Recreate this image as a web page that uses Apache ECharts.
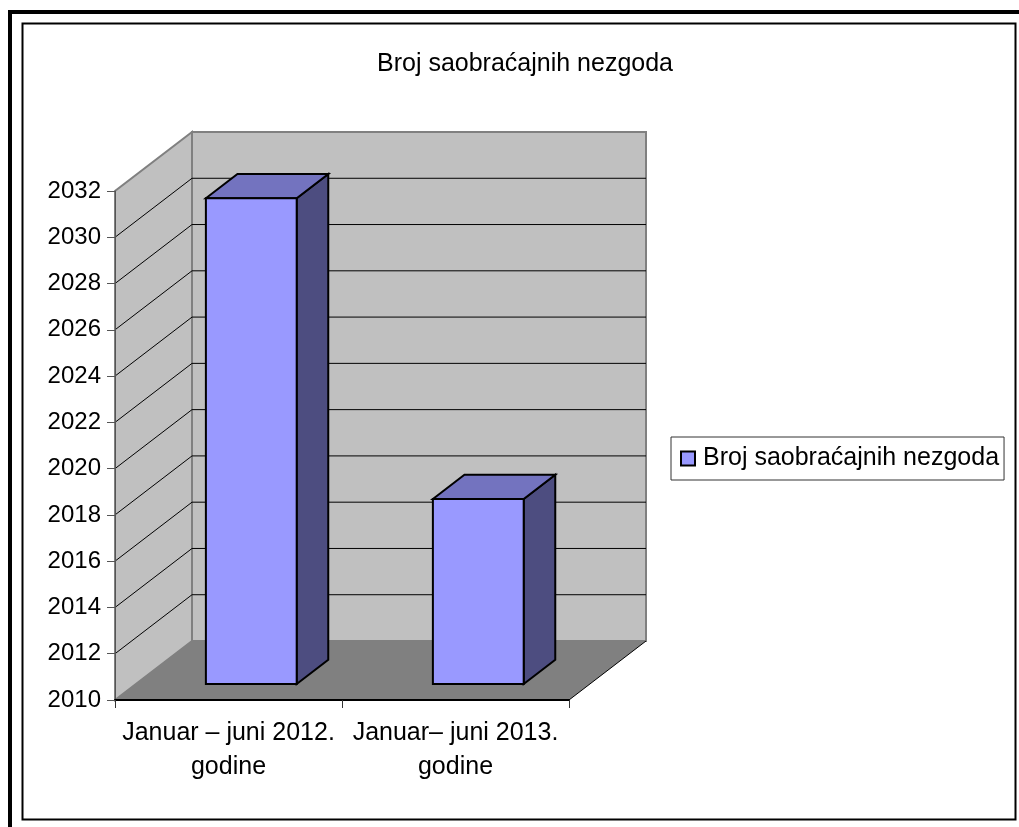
<!DOCTYPE html>
<html>
<head>
<meta charset="utf-8">
<style>
  html, body { margin: 0; padding: 0; background: #fff; }
  #chart { width: 1019px; height: 827px; }
</style>
<script src="https://cdn.jsdelivr.net/npm/echarts@6/dist/echarts.min.js"></script>
</head>
<body>
<div id="chart"></div>
<script>
const chartTitle = 'Broj saobraćajnih nezgoda'
const categories = ['Januar – juni 2012.\ngodine', 'Januar– juni 2013.\ngodine']
const accidents = [2031, 2018]
const yTicks = [2010, 2012, 2014, 2016, 2018, 2020, 2022, 2024, 2026, 2028, 2030, 2032]

const FONT = '"Liberation Sans", Arial, sans-serif'
// oblique projection of the fake 3D box
const DEPTH_X = 77
const DEPTH_Y = -59
const BAR_FRONT = 0.27
const BAR_BACK = 0.68
const BAR_WIDTH = 0.4
const BAR_SHIFT = 2

const poly = (points, fill, stroke, lineWidth) => ({
  type: 'polygon',
  shape: { points },
  style: { fill, stroke: stroke || null, lineWidth: lineWidth || 0 }
})

const renderWalls = (params) => {
  const c = params.coordSys
  const x0 = c.x
  const x1 = c.x + c.width
  const y0 = c.y
  const y1 = c.y + c.height
  return {
    type: 'group',
    children: [
      poly([[x0, y1], [x0, y0], [x0 + DEPTH_X, y0 + DEPTH_Y], [x0 + DEPTH_X, y1 + DEPTH_Y]], '#C0C0C0', '#808080', 2),
      poly([[x0 + DEPTH_X, y0 + DEPTH_Y], [x1 + DEPTH_X, y0 + DEPTH_Y], [x1 + DEPTH_X, y1 + DEPTH_Y], [x0 + DEPTH_X, y1 + DEPTH_Y]], '#C0C0C0', '#808080', 2),
      poly([[x0, y1], [x0 + DEPTH_X, y1 + DEPTH_Y], [x1 + DEPTH_X, y1 + DEPTH_Y], [x1, y1]], '#808080'),
      {
        type: 'line',
        shape: { x1: x1, y1: y1, x2: x1 + DEPTH_X, y2: y1 + DEPTH_Y },
        style: { stroke: '#000', lineWidth: 1 }
      }
    ]
  }
}

const renderGridLine = (params, api) => {
  const c = params.coordSys
  const y = api.coord([0, api.value(0)])[1]
  return {
    type: 'polyline',
    shape: {
      points: [
        [c.x, y],
        [c.x + DEPTH_X, y + DEPTH_Y],
        [c.x + c.width + DEPTH_X, y + DEPTH_Y]
      ]
    },
    style: { stroke: '#000', lineWidth: 1, fill: null }
  }
}

const renderBar = (params, api) => {
  const top = api.coord([api.value(0), api.value(1)])
  const base = api.coord([api.value(0), yTicks[0]])
  const w = api.size([1, 0])[0] * BAR_WIDTH
  const fx = top[0] - w / 2 + BAR_SHIFT + DEPTH_X * BAR_FRONT
  const dx = DEPTH_X * (BAR_BACK - BAR_FRONT)
  const dy = DEPTH_Y * (BAR_BACK - BAR_FRONT)
  const ty = top[1] + DEPTH_Y * BAR_FRONT
  const by = base[1] + DEPTH_Y * BAR_FRONT
  return {
    type: 'group',
    children: [
      poly([[fx + w, ty], [fx + w + dx, ty + dy], [fx + w + dx, by + dy], [fx + w, by]], '#4D4D80', '#000', 2),
      poly([[fx, ty], [fx + dx, ty + dy], [fx + w + dx, ty + dy], [fx + w, ty]], '#7373BF', '#000', 2),
      poly([[fx, ty], [fx + w, ty], [fx + w, by], [fx, by]], '#9999FF', '#000', 2)
    ]
  }
}

const option = {
  backgroundColor: '#fff',
  animation: false,
  textStyle: { fontFamily: FONT, color: '#000' },
  title: {
    text: chartTitle,
    left: 520,
    top: 47,
    textAlign: 'center',
    textStyle: { fontFamily: FONT, fontWeight: 'normal', fontSize: 25, color: '#000' }
  },
  legend: {
    left: 671,
    top: 437,
    padding: [9, 5, 9, 9],
    icon: 'rect',
    itemWidth: 14,
    itemHeight: 14,
    itemGap: 0,
    borderColor: '#333',
    borderWidth: 1,
    data: [chartTitle],
    textStyle: { fontFamily: FONT, fontSize: 25, color: '#000', padding: [0, 0, 0, 3] }
  },
  grid: { left: 115, top: 191, width: 454, height: 509 },
  xAxis: {
    type: 'category',
    data: categories,
    z: 4,
    axisLine: { lineStyle: { color: '#000', width: 2 } },
    axisTick: { show: true, length: 8, alignWithLabel: false, lineStyle: { color: '#333' } },
    axisLabel: { margin: 16, fontSize: 25, lineHeight: 34, color: '#000', interval: 0, fontFamily: FONT }
  },
  yAxis: {
    type: 'value',
    min: 2010,
    max: 2032,
    interval: 2,
    z: 4,
    axisLine: { show: true, lineStyle: { color: '#555', width: 1 } },
    axisTick: { show: true, length: 8, lineStyle: { color: '#555' } },
    splitLine: { show: false },
    axisLabel: {
      margin: 14,
      fontSize: 24,
      color: '#000',
      fontFamily: FONT,
      padding: [6, 0, 0, 0],
      formatter: (v) => String(v)
    }
  },
  series: [{
    name: 'walls',
    type: 'custom',
    silent: true,
    z: 1,
    renderItem: renderWalls,
    data: [0]
  }, {
    name: 'grid lines',
    type: 'custom',
    silent: true,
    z: 2,
    renderItem: renderGridLine,
    encode: { y: 0 },
    data: yTicks.slice(1, -1)
  }, {
    name: chartTitle,
    type: 'custom',
    z: 3,
    itemStyle: { color: '#9999FF', borderColor: '#000', borderWidth: 2 },
    renderItem: renderBar,
    encode: { x: 0, y: 1 },
    data: accidents.map((v, i) => [i, v])
  }],
  graphic: [{
    type: 'rect',
    shape: { x: 10, y: 12, width: 1100, height: 900 },
    style: { fill: null, stroke: '#000', lineWidth: 4 }
  }, {
    type: 'rect',
    shape: { x: 22.5, y: 23.5, width: 993, height: 796 },
    style: { fill: null, stroke: '#000', lineWidth: 2 }
  }]
}

const chart = echarts.init(document.getElementById('chart'))
chart.setOption(option)
</script>
</body>
</html>
